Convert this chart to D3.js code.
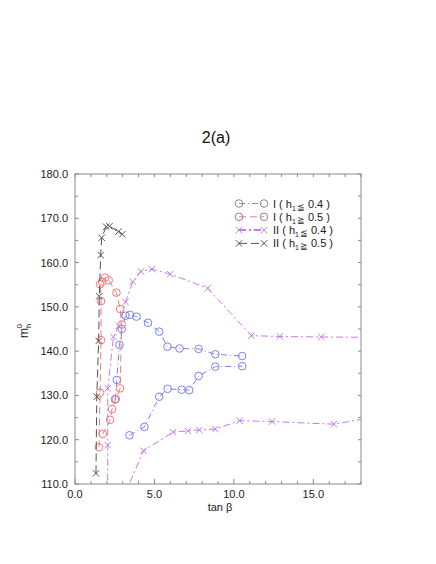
<!DOCTYPE html>
<html><head><meta charset="utf-8">
<script src="https://cdn.jsdelivr.net/npm/d3@7"></script>
<style>body{margin:0;background:#fff}svg{display:block}text{font-family:"Liberation Sans",Arial,sans-serif}</style>
</head><body>
<svg id="c" width="436" height="564"></svg>
<script>
// ---- data ----
const xTicks = [0, 5, 10, 15];
const yTicks = [110, 120, 130, 140, 150, 160, 170, 180];

// I (h1 <= 0.4): blue circles, two branches
const blueAX = [2.52, 2.63, 2.80, 2.94, 3.18, 3.45, 3.87, 4.59, 5.30, 5.82, 6.58, 7.78, 8.83, 10.52];
const blueAY = [129.1, 133.5, 141.4, 145.0, 148.0, 148.2, 147.8, 146.4, 144.4, 141.0, 140.6, 140.5, 139.3, 138.9];
const blueBX = [3.43, 4.37, 5.30, 5.83, 6.71, 7.19, 7.78, 8.83, 10.52];
const blueBY = [121.0, 122.9, 129.7, 131.5, 131.3, 131.2, 134.4, 136.5, 136.6];

// I (h1 >= 0.5): red circles
const redX = [1.51, 1.58, 1.64, 1.64, 1.58, 1.70, 1.89, 2.12, 2.61, 2.84, 2.94, 2.84, 2.57, 2.33, 2.21, 1.75];
const redY = [118.3, 130.6, 142.5, 151.3, 155.1, 155.7, 156.6, 156.0, 153.2, 149.5, 146.0, 131.6, 129.2, 126.9, 124.5, 121.3];

// II (h1 <= 0.4): purple crosses, two branches
const purpleAX = [2.06, 2.06, 2.06, 2.42, 2.75, 3.18, 3.64, 4.15, 4.84, 5.99, 8.35, 11.10, 12.89, 15.50, 19.0];
const purpleAY = [104.0, 118.8, 131.6, 143.2, 145.7, 151.1, 155.7, 158.0, 158.5, 157.4, 154.2, 143.5, 143.3, 143.2, 143.1];
const purpleBX = [3.10, 4.31, 6.16, 7.11, 7.82, 8.83, 10.36, 12.41, 16.30, 19.0];
const purpleBY = [107.3, 117.5, 121.7, 122.0, 122.2, 122.4, 124.3, 124.1, 123.5, 125.2];

// II (h1 >= 0.5): black crosses
const blackX = [1.32, 1.37, 1.49, 1.53, 1.62, 1.68, 1.96, 2.17, 2.73, 2.98];
const blackY = [112.4, 129.7, 142.3, 152.4, 161.7, 165.6, 168.1, 168.2, 167.0, 166.4];

const legendLabels = ["I", "I", "II", "II"];
const legendConds = ["≦", "≧", "≦", "≧"];
const legendVals = ["0.4", "0.5", "0.4", "0.5"];

// ---- drawing ----
const svg = d3.select("#c");
const L = 75, R = 361, T = 174, B = 484;
const x = d3.scaleLinear().domain([0, 18]).range([L, R]);
const y = d3.scaleLinear().domain([110, 180]).range([B, T]);

const gray = "#8a8a8a";
const blue = "#7d82f4", red = "#f27a7a", purple = "#c57ae8", black = "#555";

svg.append("defs").append("clipPath").attr("id", "clip")
  .append("rect").attr("x", L).attr("y", T).attr("width", R - L).attr("height", B - T);

// frame
svg.append("rect").attr("x", L).attr("y", T).attr("width", R - L).attr("height", B - T)
  .attr("fill", "none").attr("stroke", gray).attr("stroke-width", 1);

// ticks
const g = svg.append("g").attr("stroke", gray).attr("stroke-width", 1);
d3.range(0, 18.01, 1).forEach(v => {
  const major = v % 5 === 0;
  const len = major ? 5 : 3;
  g.append("line").attr("x1", x(v)).attr("x2", x(v)).attr("y1", B).attr("y2", B - len);
  g.append("line").attr("x1", x(v)).attr("x2", x(v)).attr("y1", T).attr("y2", T + 3);
});
d3.range(110, 180.01, 5).forEach(v => {
  const major = v % 10 === 0;
  const len = major ? 4 : 3;
  g.append("line").attr("y1", y(v)).attr("y2", y(v)).attr("x1", L).attr("x2", L + len);
  g.append("line").attr("y1", y(v)).attr("y2", y(v)).attr("x1", R).attr("x2", R - 3);
});

const fmt = d3.format(".1f");
svg.append("g").selectAll("text").data(xTicks).join("text")
  .attr("x", d => x(d)).attr("y", B + 14).attr("text-anchor", "middle")
  .attr("font-size", 11).attr("fill", "#222").text(fmt);
svg.append("g").selectAll("text").data(yTicks).join("text")
  .attr("x", L - 7).attr("y", d => y(d) + 4).attr("text-anchor", "end")
  .attr("font-size", 11).attr("fill", "#222").text(fmt);

// axis titles
svg.append("text").attr("x", 220).attr("y", 511).attr("text-anchor", "middle")
  .attr("font-size", 11).attr("fill", "#222").text("tan β");
const yl = svg.append("text").attr("transform", "translate(28,338) rotate(-90)")
  .attr("font-size", 12).attr("fill", "#222");
yl.append("tspan").text("m");
yl.append("tspan").attr("font-size", 8).attr("dy", 3).text("h");
yl.append("tspan").attr("font-size", 8).attr("dy", -9).attr("dx", -5).text("0");

svg.append("text").attr("x", 216).attr("y", 143).attr("text-anchor", "middle")
  .attr("font-size", 16).attr("fill", "#111").text("2(a)");

// series
const plot = svg.append("g").attr("clip-path", "url(#clip)");
const line = d3.line().x(d => x(d[0])).y(d => y(d[1]));
const zip = (a, b) => a.map((v, i) => [v, b[i]]);

function drawSeries(xs, ys, color, dash, marker) {
  const pts = zip(xs, ys);
  plot.append("path").attr("d", line(pts)).attr("fill", "none")
    .attr("stroke", color).attr("stroke-width", 1).attr("stroke-dasharray", dash);
  drawMarkers(plot, pts.map(p => [x(p[0]), y(p[1])]), color, marker);
}
function drawMarkers(parent, pxs, color, marker) {
  pxs.forEach(([px, py]) => {
    if (marker === "circle") {
      parent.append("circle").attr("cx", px).attr("cy", py).attr("r", 3.8)
        .attr("fill", "none").attr("stroke", color).attr("stroke-width", 1);
    } else {
      const s = 3.2;
      parent.append("path").attr("d", `M${px - s},${py - s}L${px + s},${py + s}M${px - s},${py + s}L${px + s},${py - s}`)
        .attr("stroke", color).attr("stroke-width", 1).attr("fill", "none");
    }
  });
}

const dashes = { blue: "6,3,1,3", red: "7,4", purple: "7,3,2,3", black: "8,4" };
drawSeries(purpleAX, purpleAY, purple, dashes.purple, "cross");
drawSeries(purpleBX, purpleBY, purple, dashes.purple, "cross");
drawSeries(blueAX, blueAY, blue, dashes.blue, "circle");
drawSeries(blueBX, blueBY, blue, dashes.blue, "circle");
drawSeries(redX, redY, red, dashes.red, "circle");
drawSeries(blackX, blackY, black, dashes.black, "cross");

// legend
const legColors = [blue, red, purple, black];
const legDash = [dashes.blue, dashes.red, dashes.purple, dashes.black];
const legMarker = ["circle", "circle", "cross", "cross"];
const lg = svg.append("g");
legendLabels.forEach((lab, i) => {
  const cy = 203.5 + i * 13.3;
  lg.append("line").attr("x1", 239).attr("x2", 264).attr("y1", cy).attr("y2", cy)
    .attr("stroke", legColors[i]).attr("stroke-dasharray", legDash[i]).attr("stroke-width", i === 2 ? 2 : 1);
  drawMarkers(lg, [[239, cy], [264, cy]], i === 0 || i === 1 ? "#888" : legColors[i], legMarker[i]);
  const t = lg.append("text").attr("x", 273).attr("y", cy + 4).attr("font-size", 11).attr("fill", "#222");
  t.append("tspan").text(lab + " ( h");
  t.append("tspan").attr("font-size", 7).attr("dy", 3).text("1");
  t.append("tspan").attr("font-size", 9).attr("dy", -1).attr("dx", 1).text(legendConds[i]);
  t.append("tspan").attr("dy", -2).text(" " + legendVals[i] + " )");
});
</script>
</body></html>
